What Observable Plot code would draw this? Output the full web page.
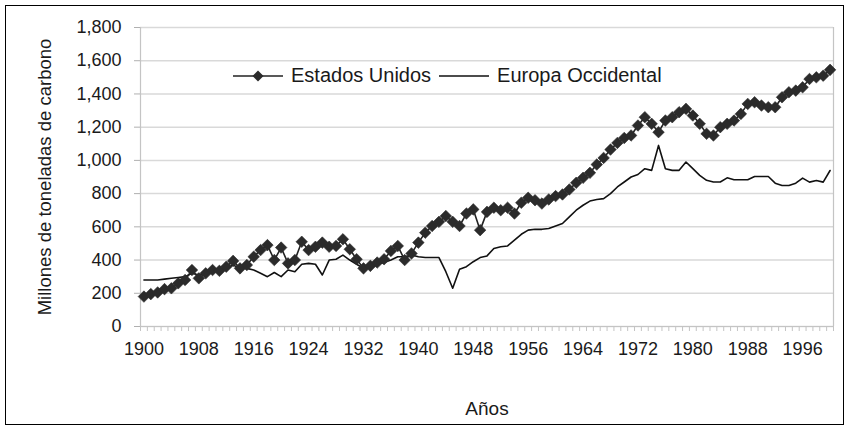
<!DOCTYPE html>
<html>
<head>
<meta charset="utf-8">
<script src="https://cdn.jsdelivr.net/npm/d3@7"></script>
<script src="https://cdn.jsdelivr.net/npm/@observablehq/plot@0.6"></script>
<style>
  body { margin: 0; background: #fff; font-family: "Liberation Sans", Arial, sans-serif; }
  #wrap { position: relative; width: 847px; height: 426px; overflow: hidden; }
  #frame { position: absolute; left: 5px; top: 5px; width: 839px; height: 420px; border: 1px solid #000; box-sizing: border-box; pointer-events: none; }
  #legend { position: absolute; top: 64px; left: 233px; display: flex; align-items: center; font-size: 20px; line-height: 23px; color: #1a1a1a; white-space: nowrap; }
  #legend span { margin-left: 8px; margin-right: 8px; }
</style>
</head>
<body>
<div id="wrap"><div id="chart"></div><div id="legend"></div><div id="frame"></div></div>
<script>
const seriesNames = ["Estados Unidos", "Europa Occidental"];

const years = [
  1900,1901,1902,1903,1904,1905,1906,1907,1908,1909,
  1910,1911,1912,1913,1914,1915,1916,1917,1918,1919,
  1920,1921,1922,1923,1924,1925,1926,1927,1928,1929,
  1930,1931,1932,1933,1934,1935,1936,1937,1938,1939,
  1940,1941,1942,1943,1944,1945,1946,1947,1948,1949,
  1950,1951,1952,1953,1954,1955,1956,1957,1958,1959,
  1960,1961,1962,1963,1964,1965,1966,1967,1968,1969,
  1970,1971,1972,1973,1974,1975,1976,1977,1978,1979,
  1980,1981,1982,1983,1984,1985,1986,1987,1988,1989,
  1990,1991,1992,1993,1994,1995,1996,1997,1998,1999,
  2000
];

const estadosUnidos = [
  180,195,205,225,230,260,280,340,290,320,
  340,335,360,395,350,370,420,460,490,400,
  475,380,400,510,460,480,505,480,485,525,
  465,405,350,365,385,405,455,485,400,440,
  505,565,605,630,665,630,605,680,705,580,
  690,715,700,715,680,745,775,760,740,765,
  785,795,825,865,895,925,975,1015,1065,1105,
  1135,1150,1210,1260,1220,1170,1240,1260,1290,1310,
  1270,1220,1160,1150,1200,1220,1240,1280,1340,1350,
  1330,1320,1320,1380,1410,1420,1440,1490,1500,1510,
  1545
];

const europaOccidental = [
  280,280,280,285,290,295,300,320,310,320,
  330,340,350,370,350,350,340,320,300,325,
  300,340,330,375,380,375,310,400,405,430,
  400,375,350,360,375,385,400,420,420,430,
  420,415,415,415,330,230,345,360,390,415,
  425,470,480,485,520,555,580,585,585,590,
  605,620,660,700,730,755,765,770,800,840,
  870,900,915,950,940,1090,950,940,940,990,
  950,910,880,870,870,895,883,883,883,903,
  903,903,863,849,849,863,893,869,879,869,
  939
];

const yTicks = [0,200,400,600,800,1000,1200,1400,1600,1800];
const xTickYears = [1900,1908,1916,1924,1932,1940,1948,1956,1964,1972,1980,1988,1996];
const xTitle = "Años";
const yTitle = "Millones de toneladas de carbono";

const data = years.map((y, i) => ({ year: y, us: estadosUnidos[i], eu: europaOccidental[i] }));
const boundaries = years.map(y => y - 0.5).concat([years[years.length - 1] + 0.5]);
const x0 = years[0] - 0.5, x1 = years[years.length - 1] + 0.5;

const plot = Plot.plot({
  width: 847,
  height: 426,
  marginLeft: 140,
  marginRight: 14,
  marginTop: 27,
  marginBottom: 100,
  x: { domain: [x0, x1] },
  y: { domain: [0, 1800] },
  style: { fontFamily: "'Liberation Sans', Arial, sans-serif", fontSize: "18px", color: "#1a1a1a", background: "transparent", overflow: "visible" },
  marks: [
    Plot.gridY(yTicks, { stroke: "#d9d9d9", strokeOpacity: 1, strokeWidth: 1.5 }),
    Plot.ruleX([x0, x1], { stroke: "#c4c4c4", strokeWidth: 1.2 }),
    Plot.ruleY([0], { stroke: "#c4c4c4", strokeWidth: 1.2 }),
    Plot.axisY(yTicks, { tickSize: 6, tickPadding: 13, tickFormat: d3.format(","), stroke: "#b0b0b0", label: null, fontSize: 18 }),
    Plot.axisX(boundaries, { tickSize: 5, tickFormat: () => "", stroke: "#c4c4c4", label: null }),
    Plot.axisX(xTickYears, { tickSize: 0, tickPadding: 16, tickFormat: d => String(d), label: null, fontSize: 18 }),
    Plot.line(data, { x: "year", y: "eu", stroke: "#111", strokeWidth: 1.6 }),
    Plot.line(data, { x: "year", y: "us", stroke: "#222", strokeWidth: 1.6 }),
    Plot.dot(data, { x: "year", y: "us", symbol: "diamond2", r: 5.2, fill: "#2b2b2b", stroke: "#2b2b2b", strokeWidth: 0.6 }),
    Plot.text([xTitle], { frameAnchor: "bottom", dy: 88, fontSize: 19 }),
    Plot.text([yTitle], { frameAnchor: "left", textAnchor: "middle", dx: -95, dy: 0, rotate: -90, fontSize: 18.5 })
  ]
});
document.getElementById("chart").appendChild(plot);

// Legend
const legend = document.getElementById("legend");
const sample = (withMarker, stroke) => {
  const ns = "http://www.w3.org/2000/svg";
  const s = document.createElementNS(ns, "svg");
  s.setAttribute("width", "50"); s.setAttribute("height", "14");
  const l = document.createElementNS(ns, "line");
  l.setAttribute("x1", "0"); l.setAttribute("x2", "50"); l.setAttribute("y1", "7"); l.setAttribute("y2", "7");
  l.setAttribute("stroke", stroke); l.setAttribute("stroke-width", "1.6");
  s.appendChild(l);
  if (withMarker) {
    const p = document.createElementNS(ns, "path");
    p.setAttribute("d", "M25 1.5 L30.5 7 L25 12.5 L19.5 7Z");
    p.setAttribute("fill", "#2b2b2b");
    s.appendChild(p);
  }
  return s;
};
seriesNames.forEach((name, i) => {
  legend.appendChild(sample(i === 0, i === 0 ? "#222" : "#111"));
  const sp = document.createElement("span");
  sp.textContent = name;
  legend.appendChild(sp);
});
</script>
</body>
</html>
